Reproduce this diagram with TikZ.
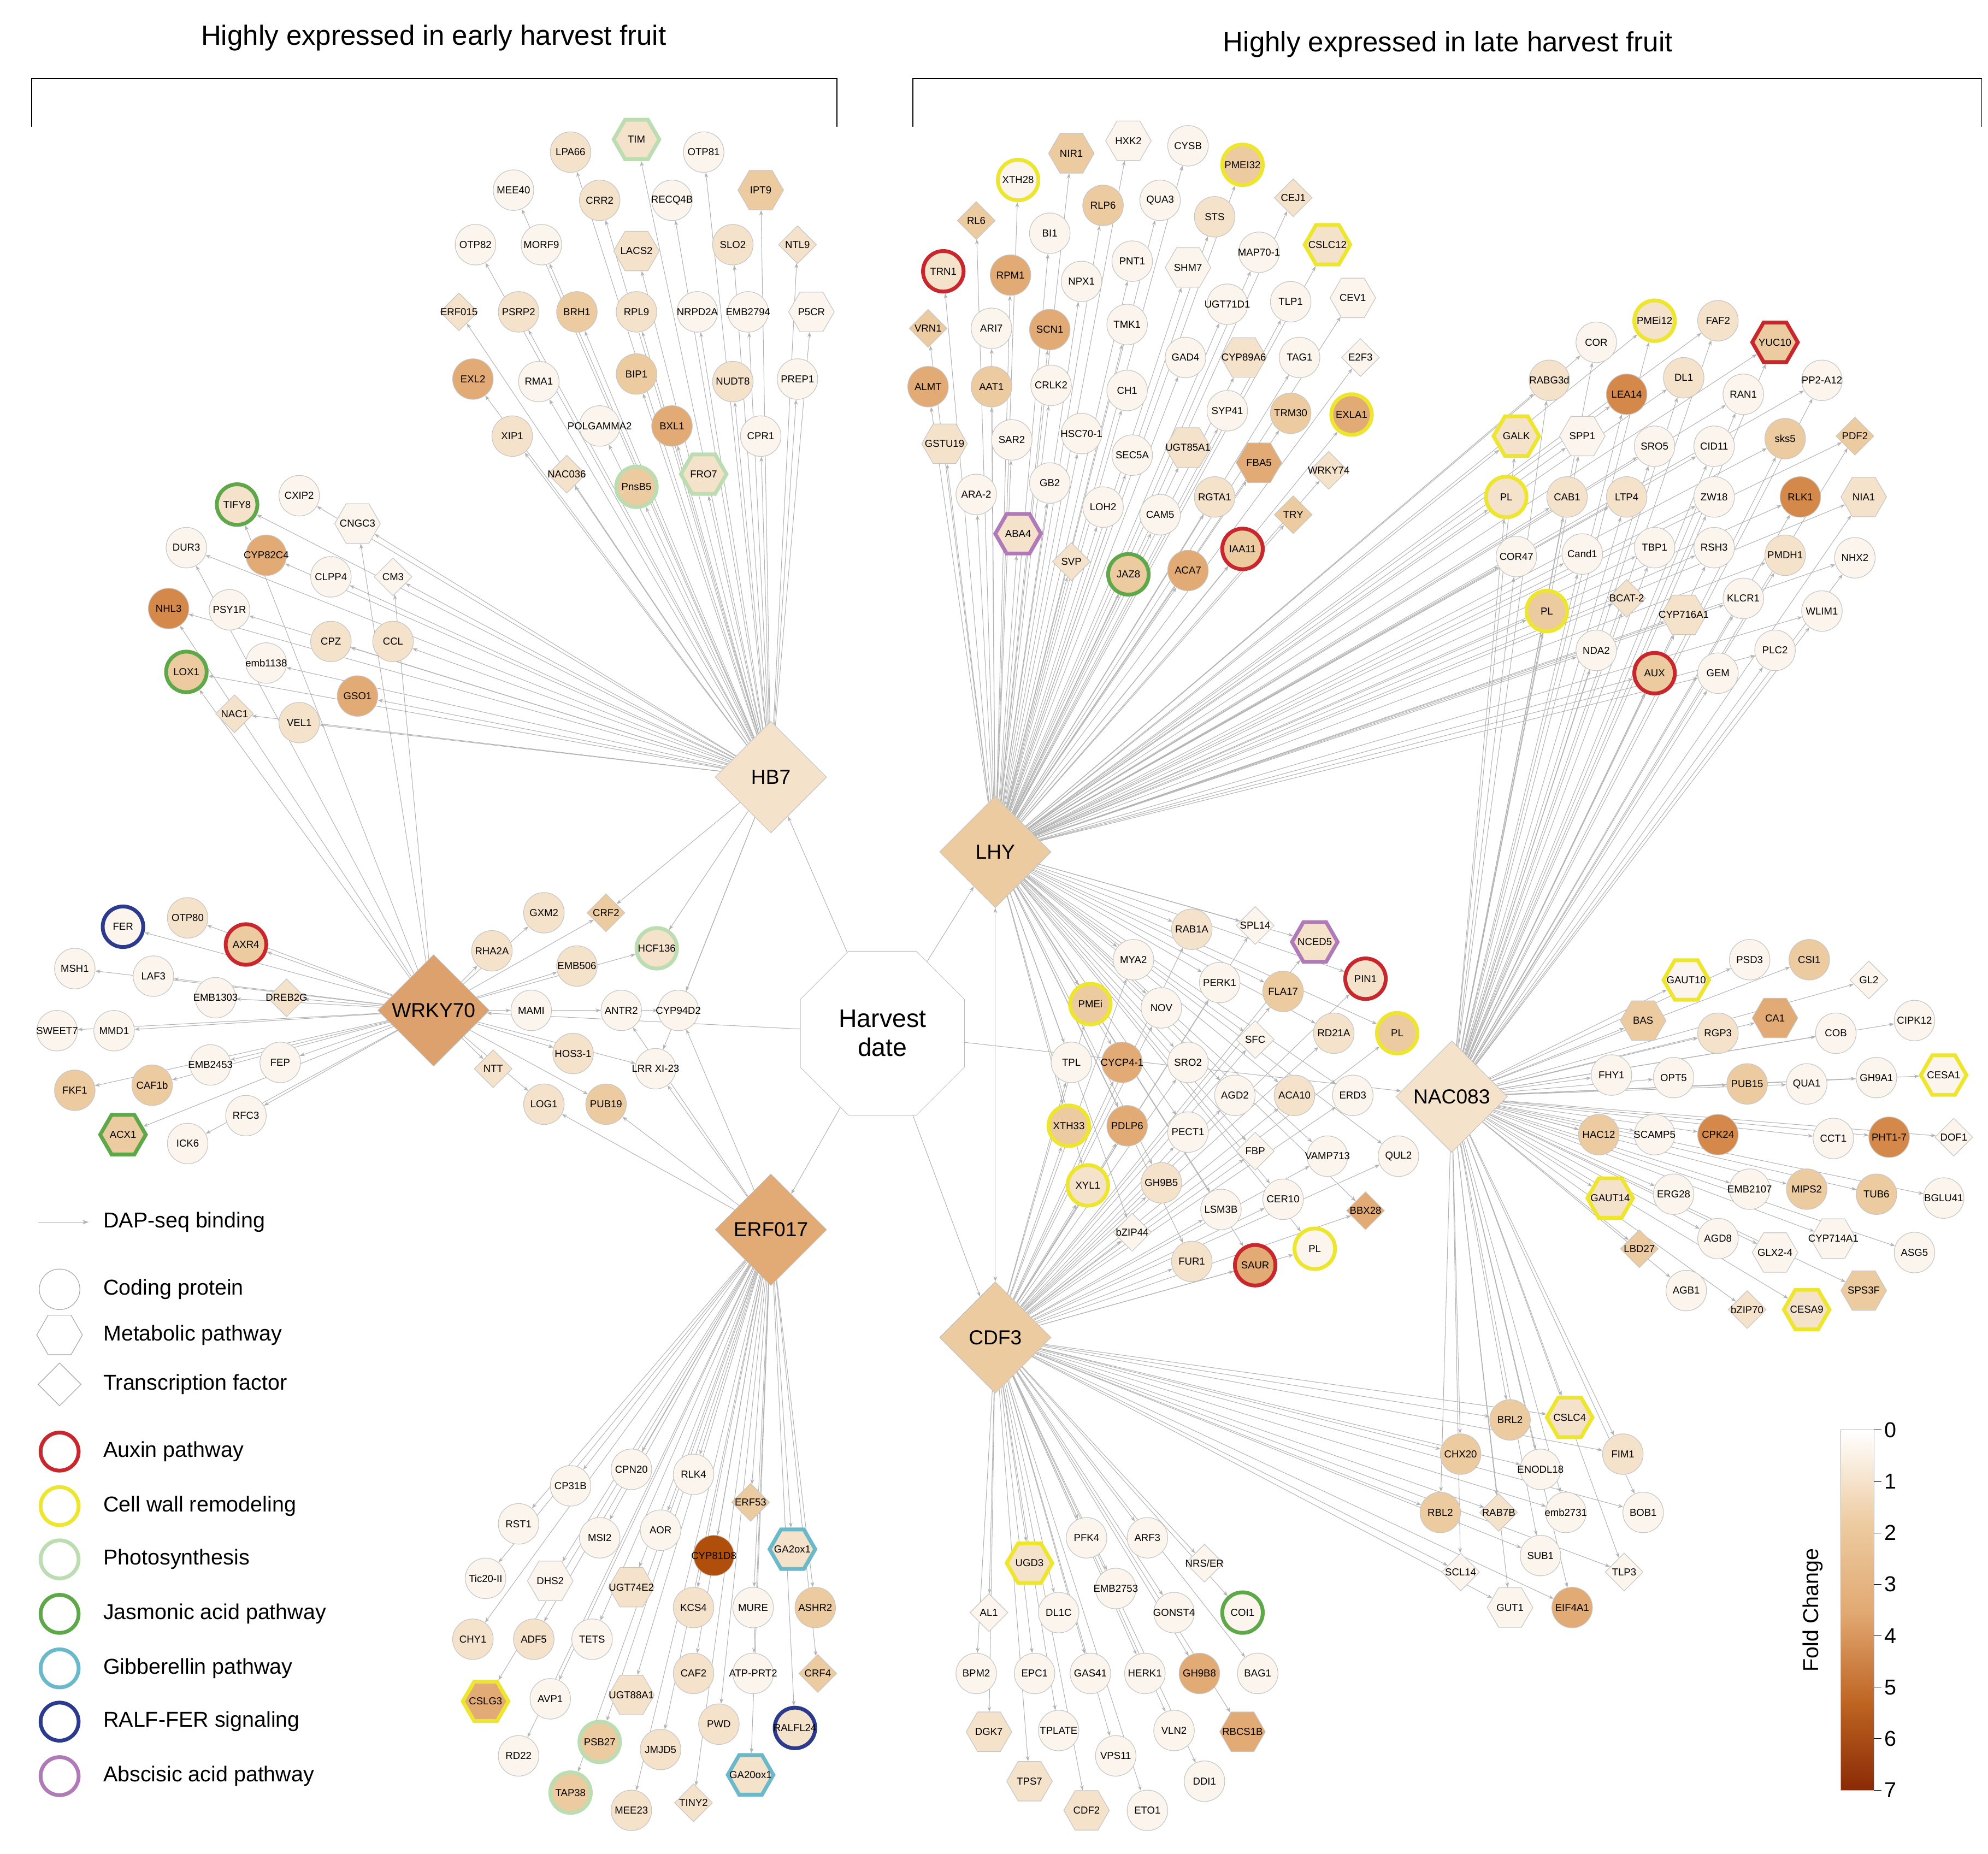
\documentclass[tikz,border=0pt]{standalone}
\usepackage{fontspec}
\setmainfont{Liberation Sans}
\usetikzlibrary{shapes.geometric,arrows.meta}
\pgfdeclarelayer{bg}\pgfsetlayers{bg,main}
\definecolor{f0}{HTML}{FBF5EE}\definecolor{f1}{HTML}{F5E2CA}\definecolor{f2}{HTML}{EDCBA0}
\definecolor{f3}{HTML}{E2AA74}\definecolor{f4}{HTML}{D4894A}\definecolor{f5}{HTML}{BE6422}\definecolor{f6}{HTML}{B04E0C}
\definecolor{fdark}{HTML}{8A2A06}
\definecolor{cR}{HTML}{C8282D}\definecolor{cY}{HTML}{EEE62E}\definecolor{cP}{HTML}{BCDDB2}
\definecolor{cJ}{HTML}{5FA84A}\definecolor{cG}{HTML}{6AB9CB}\definecolor{cF}{HTML}{2B3A8C}\definecolor{cA}{HTML}{B07AB8}
\pgfdeclareverticalshading{fc}{100bp}{color(0bp)=(fdark); color(25bp)=(fdark); color(37bp)=(f5); color(50bp)=(f3); color(62bp)=(f2); color(75bp)=(white); color(100bp)=(white)}
\tikzset{
 gbase/.style={draw=gray!45,line width=0.5pt,inner sep=0pt},
 gc/.style={gbase,circle,minimum size=32pt},
 gh/.style={gbase,regular polygon,regular polygon sides=6,minimum size=36pt},
 gd/.style={gbase,diamond,minimum width=30pt,minimum height=30pt},
 f0/.style={fill=f0},f1/.style={fill=f1},f2/.style={fill=f2},f3/.style={fill=f3},
 f4/.style={fill=f4},f5/.style={fill=f5},f6/.style={fill=f6},
 rN/.style={},rR/.style={draw=cR,line width=3pt},rY/.style={draw=cY,line width=3pt},
 rP/.style={draw=cP,line width=3pt},rJ/.style={draw=cJ,line width=3pt},rG/.style={draw=cG,line width=3pt},
 rF/.style={draw=cF,line width=3pt},rA/.style={draw=cA,line width=3pt},
 lab/.style={font=\fontsize{8}{9}\selectfont,inner sep=0pt},
 hub/.style={diamond,draw=gray!50,minimum width=88pt,minimum height=88pt,inner sep=0pt,font=\fontsize{16}{18}\selectfont},
 edge/.style={draw=gray!60,line width=0.45pt,-{Stealth[length=4pt,width=3pt]}},
 ledge/.style={draw=gray!60,line width=0.45pt,-{Stealth[length=5pt,width=3.5pt]}},
 leg/.style={anchor=west,font=\fontsize{17}{19}\selectfont},
}
\newcommand{\genes}[2]{\foreach \x/\y/\n/\s/\f/\r [count=\i] in {#2}{
 \node[g\s,f\f,r\r] (#1\i) at (\x,\y) {}; \node[lab] at (#1\i) {\n};}}
\begin{document}
\begin{tikzpicture}[x=1pt,y=-1pt]
\useasboundingbox (0,0) rectangle (1568,1462);
% titles and brackets
\node[font=\fontsize{22}{24}\selectfont] at (342,30) {Highly expressed in early harvest fruit};
\node[font=\fontsize{22}{24}\selectfont] at (1142,35) {Highly expressed in late harvest fruit};
\draw[line width=0.8pt] (25,100) -- (25,62) -- (660,62) -- (660,100);
\draw[line width=0.8pt] (720,100) -- (720,62) -- (1563,62) -- (1563,100);
% hubs
\node[regular polygon,regular polygon sides=8,draw=gray!50,minimum size=140pt,fill=white,align=center,font=\fontsize{20}{23}\selectfont] (HD) at (696,815) {Harvest\\date};
\node[hub,fill=f1] (HB7) at (608,613) {HB7};
\node[hub,fill=f4!80] (WRKY70) at (342,797) {WRKY70};
\node[hub,fill=f3] (ERF017) at (608,970) {ERF017};
\node[hub,fill=f2] (LHY) at (785,672) {LHY};
\node[hub,fill=f1] (NAC083) at (1145,865) {NAC083};
\node[hub,fill=f2] (CDF3) at (785,1055) {CDF3};
% gene groups
\genes{a}{450/120/LPA66/c/1/N,502/110/TIM/h/1/P,555/120/OTP81/c/0/N,405/150/MEE40/c/0/N,473/158/CRR2/c/1/N,530/158/RECQ4B/c/0/N,600/150/IPT9/h/2/N,375/193/OTP82/c/0/N,427/193/MORF9/c/0/N,502/198/LACS2/h/1/N,578/193/SLO2/c/1/N,629/193/NTL9/d/1/N,362/246/ERF015/d/1/N,409/246/PSRP2/c/1/N,455/246/BRH1/c/2/N,502/246/RPL9/c/1/N,550/246/NRPD2A/c/0/N,590/246/EMB2794/c/0/N,640/246/P5CR/h/0/N,373/299/EXL2/c/3/N,425/301/RMA1/c/0/N,502/295/BIP1/c/2/N,578/301/NUDT8/c/1/N,629/299/PREP1/c/0/N,404/344/XIP1/c/1/N,473/336/POLGAMMA2/c/0/N,530/336/BXL1/c/3/N,600/344/CPR1/c/0/N,447/374/NAC036/d/1/N,502/384/PnsB5/c/2/P,555/374/FRO7/h/1/P}
\genes{b}{187/398/TIFY8/c/1/J,236/391/CXIP2/c/0/N,282/413/CNGC3/h/0/N,147/432/DUR3/c/0/N,210/438/CYP82C4/c/3/N,261/455/CLPP4/c/0/N,310/455/CM3/d/0/N,133/480/NHL3/c/4/N,181/481/PSY1R/c/0/N,261/506/CPZ/c/1/N,310/506/CCL/c/1/N,147/530/LOX1/c/2/J,210/523/emb1138/c/0/N,282/549/GSO1/c/3/N,185/563/NAC1/d/1/N,236/570/VEL1/c/1/N}
\genes{w}{97/731/FER/c/0/F,148/724/OTP80/c/1/N,194/745/AXR4/c/2/R,59/764/MSH1/c/0/N,121/770/LAF3/c/0/N,170/787/EMB1303/c/0/N,226/787/DREB2G/d/1/N,45/813/SWEET7/c/0/N,90/813/MMD1/c/0/N,166/840/EMB2453/c/0/N,221/838/FEP/c/0/N,59/860/FKF1/c/2/N,120/856/CAF1b/c/2/N,194/880/RFC3/c/0/N,97/895/ACX1/h/2/J,148/902/ICK6/c/0/N}
\genes{m}{429/720/GXM2/c/1/N,478/720/CRF2/d/2/N,388/750/RHA2A/c/1/N,518/748/HCF136/c/1/P,455/762/EMB506/c/1/N,419/797/MAMI/c/0/N,490/797/ANTR2/c/0/N,535/797/CYP94D2/c/0/N,389/843/NTT/d/1/N,452/831/HOS3-1/c/1/N,517/843/LRR XI-23/c/0/N,429/871/LOG1/c/1/N,478/871/PUB19/c/2/N}
\genes{e}{450/1172/CP31B/c/0/N,498/1159/CPN20/c/0/N,547/1163/RLK4/c/0/N,592/1185/ERF53/d/2/N,409/1202/RST1/c/0/N,473/1213/MSI2/c/0/N,521/1207/AOR/c/0/N,563/1227/CYP81D8/c/6/N,625/1222/GA2ox1/h/1/G,383/1245/Tic20-II/c/0/N,434/1247/DHS2/h/0/N,498/1252/UGT74E2/h/1/N,547/1268/KCS4/c/1/N,594/1268/MURE/c/0/N,643/1268/ASHR2/c/2/N,373/1293/CHY1/c/1/N,421/1293/ADF5/c/1/N,467/1293/TETS/c/0/N,547/1320/CAF2/c/1/N,594/1320/ATP-PRT2/c/0/N,645/1320/CRF4/d/2/N,383/1342/CSLG3/h/3/Y,434/1340/AVP1/c/0/N,498/1337/UGT88A1/h/1/N,627/1363/RALFL24/c/1/F,473/1374/PSB27/c/2/P,521/1380/JMJD5/c/1/N,567/1360/PWD/c/1/N,409/1385/RD22/c/0/N,592/1400/GA20ox1/h/1/G,450/1414/TAP38/c/2/P,498/1428/MEE23/c/1/N,547/1422/TINY2/d/1/N}
\genes{l}{845/121/NIR1/h/2/N,890/111/HXK2/h/0/N,937/115/CYSB/c/0/N,980/130/PMEI32/c/2/Y,803/142/XTH28/c/0/Y,1020/156/CEJ1/d/1/N,770/174/RL6/d/2/N,870/162/RLP6/c/2/N,915/158/QUA3/c/0/N,958/171/STS/c/1/N,1047/193/CSLC12/h/1/Y,828/184/BI1/c/0/N,744/214/TRN1/c/1/R,797/217/RPM1/c/3/N,893/206/PNT1/c/0/N,937/211/SHM7/h/0/N,993/199/MAP70-1/c/0/N,853/222/NPX1/c/0/N,968/240/UGT71D1/c/0/N,1018/238/TLP1/c/0/N,1067/235/CEV1/h/0/N,732/259/VRN1/d/2/N,782/259/ARI7/c/0/N,828/260/SCN1/c/3/N,889/256/TMK1/c/0/N,935/282/GAD4/c/0/N,981/282/CYP89A6/h/1/N,1025/282/TAG1/c/0/N,1073/282/E2F3/d/0/N,732/305/ALMT/c/3/N,782/305/AAT1/c/2/N,829/304/CRLK2/c/0/N,889/308/CH1/c/0/N,968/324/SYP41/c/0/N,1018/326/TRM30/c/2/N,1066/327/EXLA1/c/3/Y,745/350/GSTU19/h/1/N,798/347/SAR2/c/0/N,853/342/HSC70-1/c/0/N,893/359/SEC5A/c/0/N,937/353/UGT85A1/h/1/N,993/365/FBA5/h/3/N,1048/371/WRKY74/d/1/N,770/390/ARA-2/c/0/N,828/381/GB2/c/0/N,870/400/LOH2/c/0/N,958/392/RGTA1/c/1/N,803/421/ABA4/h/1/A,915/406/CAM5/c/0/N,1020/406/TRY/d/2/N,845/443/SVP/d/1/N,890/453/JAZ8/c/2/J,937/450/ACA7/c/3/N,980/433/IAA11/c/2/R}
\genes{u}{1305/253/PMEi12/c/1/Y,1355/253/FAF2/c/1/N,1400/270/YUC10/h/2/R,1259/270/COR/c/0/N,1222/300/RABG3d/c/1/N,1283/311/LEA14/c/4/N,1328/298/DL1/c/1/N,1375/311/RAN1/c/0/N,1437/300/PP2-A12/c/0/N,1196/344/GALK/h/1/Y,1248/344/SPP1/h/0/N,1305/352/SRO5/c/0/N,1352/352/CID11/c/0/N,1408/346/sks5/c/2/N,1463/344/PDF2/d/2/N,1188/392/PL/c/1/Y,1236/392/CAB1/c/1/N,1283/392/LTP4/c/1/N,1352/392/ZW18/c/0/N,1420/392/RLK1/c/4/N,1470/392/NIA1/h/1/N,1196/439/COR47/c/0/N,1248/437/Cand1/c/0/N,1305/432/TBP1/c/0/N,1352/432/RSH3/c/0/N,1408/438/PMDH1/c/1/N,1463/440/NHX2/c/0/N,1220/482/PL/c/2/Y,1283/472/BCAT-2/d/1/N,1328/485/CYP716A1/h/1/N,1375/472/KLCR1/c/0/N,1437/482/WLIM1/c/0/N,1259/513/NDA2/c/0/N,1400/513/PLC2/c/0/N,1305/531/AUX/c/2/R,1355/531/GEM/c/0/N}
\genes{c}{940/733/RAB1A/c/1/N,990/730/SPL14/d/0/N,1037/743/NCED5/h/1/A,894/757/MYA2/c/0/N,1077/772/PIN1/c/1/R,962/775/PERK1/c/0/N,1012/782/FLA17/c/2/N,860/792/PMEi/c/2/Y,916/795/NOV/c/0/N,1102/815/PL/c/2/Y,990/820/SFC/d/0/N,1052/815/RD21A/c/1/N,845/838/TPL/c/0/N,885/838/CYCP4-1/c/3/N,937/838/SRO2/c/0/N,974/864/AGD2/c/0/N,1021/864/ACA10/c/1/N,1067/864/ERD3/c/0/N,843/888/XTH33/c/2/Y,889/888/PDLP6/c/3/N,937/893/PECT1/c/0/N,990/908/FBP/d/0/N,1047/912/VAMP713/c/0/N,1103/912/QUL2/c/0/N,858/935/XYL1/c/1/Y,916/933/GH9B5/c/1/N,1012/946/CER10/c/0/N,963/954/LSM3B/c/0/N,1077/955/BBX28/d/3/N,893/972/bZIP44/d/0/N,1037/985/PL/c/0/Y,940/995/FUR1/c/1/N,990/998/SAUR/c/3/R}
\genes{n}{1380/757/PSD3/c/0/N,1427/757/CSI1/c/2/N,1330/773/GAUT10/h/0/Y,1474/773/GL2/d/0/N,1296/805/BAS/h/2/N,1355/815/RGP3/c/1/N,1400/803/CA1/h/3/N,1448/815/COB/c/0/N,1510/805/CIPK12/c/0/N,1271/848/FHY1/c/0/N,1320/850/OPT5/c/0/N,1378/855/PUB15/c/2/N,1425/855/QUA1/c/0/N,1480/850/GH9A1/c/0/N,1533/848/CESA1/h/0/Y,1261/895/HAC12/c/2/N,1305/895/SCAMP5/c/0/N,1355/895/CPK24/c/4/N,1446/898/CCT1/c/0/N,1490/897/PHT1-7/c/4/N,1541/897/DOF1/d/0/N,1270/945/GAUT14/h/1/Y,1320/942/ERG28/c/0/N,1380/938/EMB2107/c/0/N,1425/938/MIPS2/c/2/N,1480/942/TUB6/c/2/N,1533/945/BGLU41/c/0/N,1355/977/AGD8/c/0/N,1400/988/GLX2-4/h/0/N,1446/977/CYP714A1/h/0/N,1510/988/ASG5/c/0/N,1293/985/LBD27/d/2/N,1330/1018/AGB1/c/0/N,1378/1033/bZIP70/d/1/N,1425/1033/CESA9/h/1/Y,1470/1018/SPS3F/h/2/N}
\genes{s}{1191/1120/BRL2/c/2/N,1238/1118/CSLC4/h/1/Y,1152/1147/CHX20/c/2/N,1215/1159/ENODL18/c/0/N,1280/1147/FIM1/c/1/N,1136/1193/RBL2/c/2/N,1182/1193/RAB7B/d/1/N,1235/1193/emb2731/c/0/N,1296/1193/BOB1/c/0/N,1215/1227/SUB1/c/0/N,1152/1240/SCL14/d/0/N,1281/1240/TLP3/d/0/N,1191/1268/GUT1/h/0/N,1240/1268/EIF4A1/c/3/N}
\genes{d}{857/1213/PFK4/c/0/N,905/1213/ARF3/c/0/N,812/1233/UGD3/h/1/Y,950/1233/{NRS/ER}/d/0/N,880/1253/EMB2753/c/0/N,780/1272/AL1/d/0/N,835/1272/DL1C/c/0/N,926/1272/GONST4/c/0/N,980/1272/COI1/c/0/J,770/1320/BPM2/c/0/N,816/1320/EPC1/c/0/N,860/1320/GAS41/c/0/N,903/1320/HERK1/c/0/N,946/1320/GH9B8/c/3/N,992/1320/BAG1/c/0/N,780/1366/DGK7/h/1/N,835/1365/TPLATE/c/0/N,926/1365/VLN2/c/0/N,980/1366/RBCS1B/h/3/N,880/1385/VPS11/c/0/N,950/1405/DDI1/c/0/N,812/1405/TPS7/h/1/N,857/1428/CDF2/h/1/N,905/1428/ETO1/c/0/N}
% edges
\begin{pgfonlayer}{bg}
\foreach \h in {HB7,WRKY70,ERF017,LHY,NAC083,CDF3} \draw[edge] (HD) -- (\h);
\foreach \i in {1,...,31} \draw[edge] (HB7) -- (a\i);
\foreach \i in {1,...,16} \draw[edge] (HB7) -- (b\i);
\foreach \i in {1,4,8,12,3,7} \draw[edge] (WRKY70) -- (b\i);
\foreach \i in {1,...,16} \draw[edge] (WRKY70) -- (w\i);
\foreach \i in {1,...,13} \draw[edge] (WRKY70) -- (m\i);
\foreach \i in {2,4,8,11} \draw[edge] (HB7) -- (m\i);
\foreach \i in {7,8,11,13,12} \draw[edge] (ERF017) -- (m\i);
\foreach \i in {1,...,33} \draw[edge] (ERF017) -- (e\i);
\foreach \i in {1,...,54} \draw[edge] (LHY) -- (l\i);
\foreach \i in {1,...,36} {\draw[edge] (NAC083) -- (u\i); \draw[edge] (LHY) -- (u\i);}
\foreach \i in {1,...,33} {\draw[edge] (LHY) -- (c\i); \draw[edge] (CDF3) -- (c\i);}
\foreach \i in {1,...,36} \draw[edge] (NAC083) -- (n\i);
\foreach \i in {1,...,14} {\draw[edge] (NAC083) -- (s\i); \draw[edge] (CDF3) -- (s\i);}
\foreach \i in {1,...,24} \draw[edge] (CDF3) -- (d\i);
\draw[edge] (LHY) -- (CDF3);
\draw[edge] (CDF3) -- (LHY);
\end{pgfonlayer}
% legend
\coordinate (la) at (30,964); \coordinate (lb) at (70,964);
\draw[ledge] (la) -- (lb); \node[leg] at (78,964) {DAP-seq binding};
\node[gc,minimum size=32pt,draw=gray!70] (L1) at (47,1017) {}; \node[leg] at (78,1017) {Coding protein};
\node[gh,minimum size=36pt,draw=gray!70] (L2) at (47,1053) {}; \node[leg] at (78,1053) {Metabolic pathway};
\node[gd,minimum width=34pt,minimum height=34pt,draw=gray!70] (L3) at (47,1092) {}; \node[leg] at (78,1092) {Transcription factor};
\foreach \c/\t/\y in {cR/Auxin pathway/1145,cY/Cell wall remodeling/1188,cP/Photosynthesis/1230,cJ/Jasmonic acid pathway/1273,cG/Gibberellin pathway/1316,cF/RALF-FER signaling/1358,cA/Abscisic acid pathway/1401}
{\node[circle,draw=\c,line width=3pt,minimum size=30pt] at (47,\y) {}; \node[leg] at (78,\y) {\t};}
% colour bar
\shade[shading=fc] (1452,1128) rectangle (1478,1412);
\draw[gray!60,line width=0.4pt] (1452,1128) rectangle (1478,1412);
\foreach \v in {0,...,7} {\draw (1478,1128+40.57*\v) -- (1484,1128+40.57*\v); \node[anchor=west,font=\fontsize{17}{19}\selectfont,inner sep=1pt] at (1485,1128+40.57*\v) {\v};}
\node[rotate=90,font=\fontsize{17}{19}\selectfont] at (1430,1270) {Fold Change};
\end{tikzpicture}
\end{document}
